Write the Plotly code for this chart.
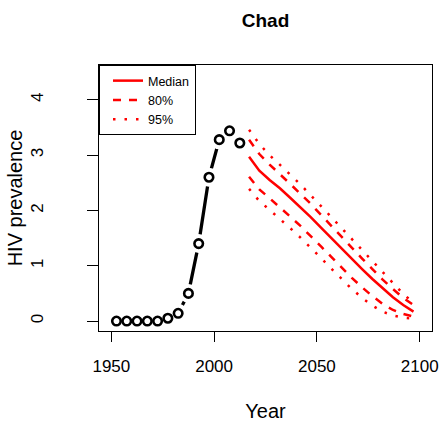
import plotly.graph_objects as go

# Observed HIV prevalence
obs_years = [1952.5, 1957.5, 1962.5, 1967.5, 1972.5, 1977.5, 1982.5, 1987.5,
             1992.5, 1997.5, 2002.5, 2007.5, 2012.5]
obs_values = [0.0, 0.0, 0.0, 0.0, 0.0, 0.05, 0.14, 0.50, 1.40, 2.60, 3.28, 3.44, 3.22]

# Projections
proj_years = [2017, 2022, 2027, 2032, 2037, 2042, 2047, 2052, 2057,
              2062, 2067, 2072, 2077, 2082, 2087, 2092, 2097]
median = [2.97, 2.72, 2.55, 2.40, 2.23, 2.06, 1.88, 1.69, 1.50,
          1.31, 1.12, 0.94, 0.76, 0.59, 0.43, 0.29, 0.17]
upper80 = [3.28, 3.02, 2.83, 2.66, 2.48, 2.30, 2.12, 1.92, 1.72,
           1.52, 1.32, 1.13, 0.94, 0.75, 0.58, 0.42, 0.29]
lower80 = [2.61, 2.38, 2.22, 2.06, 1.89, 1.72, 1.54, 1.35, 1.16,
           0.97, 0.78, 0.61, 0.45, 0.31, 0.20, 0.13, 0.08]
upper95 = [3.46, 3.20, 3.00, 2.83, 2.65, 2.47, 2.28, 2.08, 1.88,
           1.68, 1.48, 1.28, 1.08, 0.88, 0.68, 0.49, 0.33]
lower95 = [2.39, 2.17, 2.01, 1.85, 1.68, 1.51, 1.33, 1.14, 0.95,
           0.76, 0.58, 0.42, 0.28, 0.17, 0.10, 0.06, 0.04]

x_ticks = [1950, 2000, 2050, 2100]
y_ticks = [0, 1, 2, 3, 4]

FONT = "Liberation Sans, Arial, sans-serif"
RED = "#FF0000"

fig = go.Figure()

# black line (type "b")
fig.add_trace(go.Scatter(x=obs_years, y=obs_values, mode="lines",
                         line=dict(color="black", width=3.3), showlegend=False,
                         hoverinfo="skip"))
# white knockouts to create gaps around points
fig.add_trace(go.Scatter(x=obs_years, y=obs_values, mode="markers",
                         marker=dict(color="white", size=19, line=dict(width=0)),
                         showlegend=False, hoverinfo="skip"))
fig.add_trace(go.Scatter(x=obs_years, y=obs_values, mode="markers",
                         marker=dict(symbol="circle", color="white", size=8.5,
                                     line=dict(color="black", width=2.6)),
                         showlegend=False))

fig.add_trace(go.Scatter(x=proj_years, y=median, mode="lines", name="Median",
                         line=dict(color=RED, width=2.5)))
fig.add_trace(go.Scatter(x=proj_years, y=upper80, mode="lines", name="80%",
                         legendgroup="80", line=dict(color=RED, width=2.5, dash="8px,8px")))
fig.add_trace(go.Scatter(x=proj_years, y=lower80, mode="lines", name="80%",
                         legendgroup="80", showlegend=False,
                         line=dict(color=RED, width=2.5, dash="8px,8px")))
fig.add_trace(go.Scatter(x=proj_years, y=upper95, mode="lines", name="95%",
                         legendgroup="95", line=dict(color=RED, width=2.5, dash="2.5px,9px")))
fig.add_trace(go.Scatter(x=proj_years, y=lower95, mode="lines", name="95%",
                         legendgroup="95", showlegend=False,
                         line=dict(color=RED, width=2.5, dash="2.5px,9px")))

fig.update_layout(
    width=446, height=422,
    margin=dict(l=99, r=14, t=65, b=91, autoexpand=False),
    paper_bgcolor="white", plot_bgcolor="white",
    font=dict(family=FONT, size=17, color="black"),
    title=dict(text="<b>Chad</b>", x=(99 + 432) / 2 / 446, xanchor="center",
               y=1 - 20 / 422, yanchor="middle", font=dict(size=19)),
    showlegend=True,
    legend=dict(x=0, y=1, xanchor="left", yanchor="top",
                bordercolor="black", borderwidth=1, bgcolor="white",
                font=dict(size=12.5), tracegroupgap=0, itemwidth=30,
                indentation=8),
)
fig.update_xaxes(range=[1944, 2106], tickvals=x_ticks, ticks="outside", ticklen=10,
                 tickcolor="black", showline=True, linecolor="black", linewidth=1,
                 mirror=True, showgrid=False, zeroline=False, automargin=False,
                 ticklabelstandoff=10, tickfont=dict(size=17),
                 title=dict(text="Year", standoff=28))
fig.update_yaxes(range=[-0.18, 4.63], tickvals=y_ticks, ticks="outside", ticklen=11,
                 tickcolor="black", showline=True, linecolor="black", linewidth=1,
                 mirror=True, showgrid=False, zeroline=False, tickangle=-90,
                 ticklabelstandoff=37, automargin=False, tickfont=dict(size=17),
                 title=dict(text="HIV prevalence", standoff=0))

fig.write_html("out.html", config={"displayModeBar": False},
               post_script="document.body.style.margin='0px';")
